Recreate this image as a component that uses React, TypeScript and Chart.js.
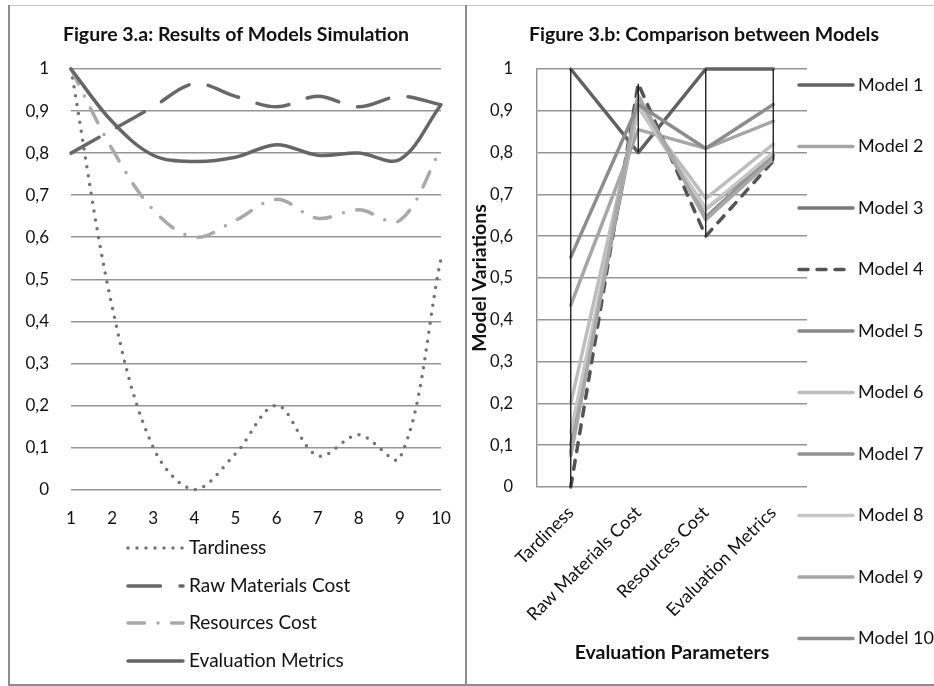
import React, { useEffect, useRef } from 'react';
import { Chart, registerables } from 'chart.js';

Chart.register(...registerables);

// ---- data ----
const simulationRuns = ['1', '2', '3', '4', '5', '6', '7', '8', '9', '10'];
const tardiness = [1.0, 0.435, 0.1, 0.0, 0.085, 0.2, 0.08, 0.13, 0.075, 0.55];
const rawMaterialsCost = [0.8, 0.855, 0.91, 0.965, 0.935, 0.91, 0.935, 0.91, 0.935, 0.915];
const resourcesCost = [1.0, 0.81, 0.665, 0.6, 0.64, 0.69, 0.645, 0.665, 0.64, 0.81];
const evaluationMetrics = [1.0, 0.875, 0.795, 0.78, 0.79, 0.82, 0.795, 0.8, 0.785, 0.915];

const evaluationParameters = ['Tardiness', 'Raw Materials Cost', 'Resources Cost', 'Evaluation Metrics'];
const modelNames = ['Model 1', 'Model 2', 'Model 3', 'Model 4', 'Model 5', 'Model 6', 'Model 7', 'Model 8', 'Model 9', 'Model 10'];
const yTickLabels = ['0', '0,1', '0,2', '0,3', '0,4', '0,5', '0,6', '0,7', '0,8', '0,9', '1'];

const leftTitle = 'Figure 3.a: Results of Models Simulation';
const rightTitle = 'Figure 3.b: Comparison between Models';
const rightYTitle = 'Model Variations';
const rightXTitle = 'Evaluation Parameters';

// ---- styles ----
const FONT = 'Lato, "Open Sans", sans-serif';
const TEXT = '#111111';
const GRID = '#959595';

const leftStyles = [
  { color: '#737373', dash: [0, 9] },
  { color: '#686868', dash: [32.5, 19.5] },
  { color: '#a9a9a9', dash: [16.5, 13.5, 0, 13.5] },
  { color: '#666666', dash: [] as number[] },
];

const modelStyles = [
  { color: '#616161', dash: [] as number[] },
  { color: '#a6a6a6', dash: [] as number[] },
  { color: '#787878', dash: [] as number[] },
  { color: '#545454', dash: [9, 9] },
  { color: '#898989', dash: [] as number[] },
  { color: '#bdbdbd', dash: [] as number[] },
  { color: '#939393', dash: [] as number[] },
  { color: '#c6c6c6', dash: [] as number[] },
  { color: '#a8a8a8', dash: [] as number[] },
  { color: '#8d8d8d', dash: [] as number[] },
];

const tickCb = (v: any) => {
  const i = Math.round(Number(v) * 10);
  return yTickLabels[i] ?? '';
};

function drawLegendItem(ctx: CanvasRenderingContext2D, x1: number, x2: number, tx: number, y: number, color: string, dash: number[], text: string, size: number) {
  ctx.save();
  ctx.beginPath();
  ctx.strokeStyle = color;
  ctx.lineWidth = 3.5;
  ctx.lineCap = 'round';
  ctx.setLineDash(dash);
  ctx.moveTo(x1, y);
  ctx.lineTo(x2, y);
  ctx.stroke();
  ctx.restore();
  ctx.save();
  ctx.fillStyle = TEXT;
  ctx.font = `${size}px ${FONT}`;
  ctx.textAlign = 'left';
  ctx.textBaseline = 'middle';
  ctx.fillText(text, tx, y);
  ctx.restore();
}

const leftOverlay = {
  id: 'leftOverlay',
  afterDraw(chart: any) {
    const ctx = chart.ctx as CanvasRenderingContext2D;
    ctx.save();
    ctx.fillStyle = TEXT;
    ctx.font = `bold 19.5px ${FONT}`;
    ctx.textAlign = 'center';
    ctx.textBaseline = 'middle';
    ctx.fillText(leftTitle, 236, 35);
    ctx.restore();
    const ys = [548, 586, 623, 661];
    chart.data.datasets.forEach((ds: any, i: number) => {
      drawLegendItem(ctx, 128, 183, 189, ys[i], ds.borderColor, ds.borderDash || [], ds.label, 19);
    });
  },
};

const highLow = {
  id: 'highLow',
  afterDatasetsDraw(chart: any) {
    const ctx = chart.ctx as CanvasRenderingContext2D;
    const xs = chart.scales.x;
    const ys = chart.scales.y;
    const n = chart.data.labels.length;
    ctx.save();
    ctx.strokeStyle = '#111';
    ctx.lineWidth = 1.3;
    for (let i = 0; i < n; i++) {
      const vals = chart.data.datasets.map((d: any) => d.data[i]);
      const hi = Math.max(...vals);
      const lo = Math.min(...vals);
      const x = xs.getPixelForValue(i);
      ctx.beginPath();
      ctx.moveTo(x, ys.getPixelForValue(hi));
      ctx.lineTo(x, ys.getPixelForValue(lo));
      ctx.stroke();
    }
    ctx.restore();
  },
};

const rightOverlay = {
  id: 'rightOverlay',
  afterDraw(chart: any) {
    const ctx = chart.ctx as CanvasRenderingContext2D;
    ctx.save();
    ctx.fillStyle = TEXT;
    ctx.font = `bold 19.5px ${FONT}`;
    ctx.textAlign = 'center';
    ctx.textBaseline = 'middle';
    ctx.fillText(rightTitle, 704, 35);
    ctx.fillText(rightXTitle, 672, 653);
    ctx.translate(480, 278);
    ctx.rotate(-Math.PI / 2);
    ctx.fillText(rightYTitle, 0, 0);
    ctx.restore();
    chart.data.datasets.forEach((ds: any, i: number) => {
      const y = 85 + i * 61.5;
      drawLegendItem(ctx, 799, 853, 858, y, ds.borderColor, ds.borderDash || [], ds.label, 18);
    });
  },
};

export default function App() {
  const leftRef = useRef<HTMLCanvasElement | null>(null);
  const rightRef = useRef<HTMLCanvasElement | null>(null);

  useEffect(() => {
    const leftTickFont = { family: FONT, size: 17 };
    const rightTickFont = { family: FONT, size: 16.5 };
    const rightCatFont = { family: FONT, size: 18 };
    const leftSeries = [
      { label: 'Tardiness', data: tardiness },
      { label: 'Raw Materials Cost', data: rawMaterialsCost },
      { label: 'Resources Cost', data: resourcesCost },
      { label: 'Evaluation Metrics', data: evaluationMetrics },
    ];
    const left = new Chart(leftRef.current as HTMLCanvasElement, {
      type: 'line',
      data: {
        labels: simulationRuns,
        datasets: leftSeries.map((s, i) => ({
          label: s.label,
          data: s.data,
          borderColor: leftStyles[i].color,
          borderDash: leftStyles[i].dash,
          borderWidth: 3.5,
          borderCapStyle: 'round',
          borderJoinStyle: 'round',
          tension: 0.35,
          pointRadius: 0,
          fill: false,
          clip: false,
          order: leftSeries.length - i,
        })) as any,
      },
      options: {
        animation: false,
        responsive: false,
        events: [],
        layout: { padding: { left: 10, top: 69, right: 493, bottom: 136.5 } },
        plugins: { legend: { display: false }, title: { display: false }, tooltip: { enabled: false } },
        scales: {
          x: {
            type: 'category',
            offset: false,
            grid: { display: false },
            border: { display: false },
            ticks: { padding: 11, font: leftTickFont, color: TEXT, maxRotation: 0, autoSkip: false },
            afterFit: (s: any) => { s.height = 60; },
          },
          y: {
            min: 0,
            max: 1,
            ticks: { stepSize: 0.1, padding: 22, font: leftTickFont, color: TEXT, callback: tickCb },
            grid: { color: GRID, lineWidth: 1.5, drawTicks: false },
            border: { display: false },
            afterFit: (s: any) => { s.width = 61; },
          },
        },
      } as any,
      plugins: [leftOverlay],
    });

    const right = new Chart(rightRef.current as HTMLCanvasElement, {
      type: 'line',
      data: {
        labels: evaluationParameters,
        datasets: modelNames.map((name, i) => ({
          label: name,
          data: [tardiness[i], rawMaterialsCost[i], resourcesCost[i], evaluationMetrics[i]],
          borderColor: modelStyles[i].color,
          borderDash: modelStyles[i].dash,
          borderWidth: 3.5,
          borderCapStyle: 'round',
          borderJoinStyle: 'round',
          tension: 0,
          pointRadius: 0,
          fill: false,
          clip: false,
          order: modelNames.length - i,
        })) as any,
      },
      options: {
        animation: false,
        responsive: false,
        events: [],
        layout: { padding: { left: 450, top: 69, right: 127, bottom: 49 } },
        plugins: { legend: { display: false }, title: { display: false }, tooltip: { enabled: false } },
        scales: {
          x: {
            type: 'category',
            offset: true,
            grid: { display: false },
            border: { display: false },
            ticks: { padding: 7, font: rightCatFont, color: TEXT, minRotation: 45, maxRotation: 45, autoSkip: false },
            afterFit: (s: any) => { s.height = 150; },
          },
          y: {
            min: 0,
            max: 1,
            ticks: { stepSize: 0.1, padding: 24, font: rightTickFont, color: TEXT, callback: tickCb },
            grid: { color: GRID, lineWidth: 1.5, drawTicks: false },
            border: { display: true, color: GRID, width: 1.5 },
            afterFit: (s: any) => { s.width = 87; },
          },
        },
      } as any,
      plugins: [highLow, rightOverlay],
    });

    return () => {
      left.destroy();
      right.destroy();
    };
  }, []);

  const line = (style: React.CSSProperties) => (
    <div style={{ position: 'absolute', background: '#8e8e8e', ...style }} />
  );

  return (
    <div style={{ position: 'fixed', left: 0, top: 0, width: 934, height: 686, background: '#ffffff', overflow: 'hidden' }}>
      {line({ left: 8, top: 5, width: 926, height: 1, background: '#c4c4c4' })}
      {line({ left: 8, top: 5, width: 1.5, height: 681 })}
      {line({ left: 465, top: 5, width: 1.5, height: 681 })}
      {line({ left: 8, top: 684, width: 926, height: 1.5 })}
      <canvas ref={leftRef} width={934} height={686} style={{ position: 'absolute', left: 0, top: 0 }} />
      <canvas ref={rightRef} width={934} height={686} style={{ position: 'absolute', left: 0, top: 0 }} />
    </div>
  );
}
